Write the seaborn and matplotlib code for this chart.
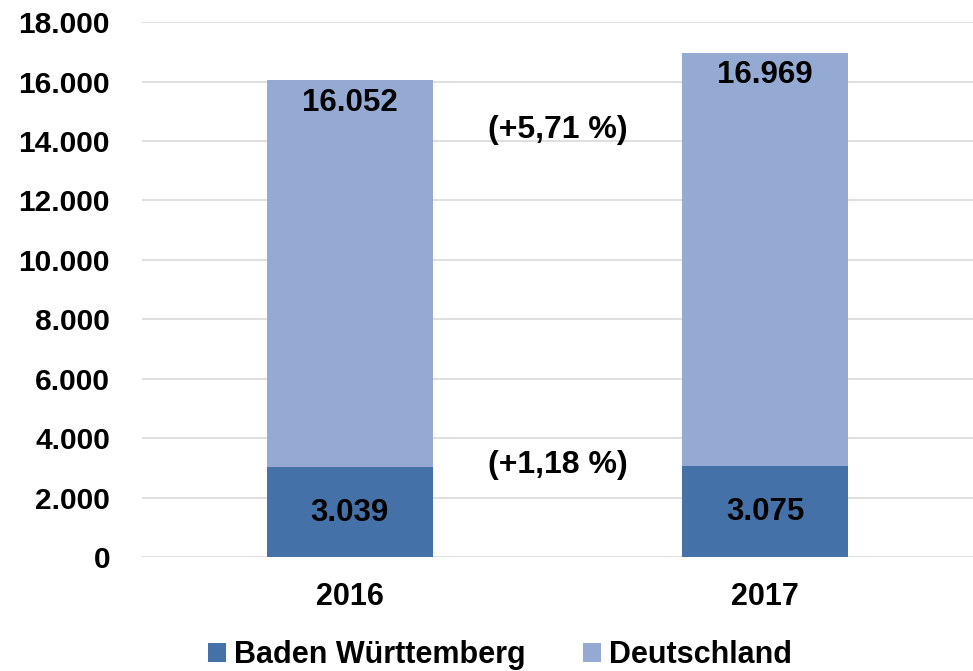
import matplotlib
matplotlib.use("Agg")
import matplotlib.pyplot as plt
import seaborn as sns
import pandas as pd

years = ["2016", "2017"]
deutschland = [16052, 16969]
baden_wuerttemberg = [3039, 3075]
de_labels = ["16.052", "16.969"]
bw_labels = ["3.039", "3.075"]
growth_de = "(+5,71 %)"
growth_bw = "(+1,18 %)"
yticks = [0, 2000, 4000, 6000, 8000, 10000, 12000, 14000, 16000, 18000]
ytick_labels = ["0", "2.000", "4.000", "6.000", "8.000", "10.000", "12.000", "14.000", "16.000", "18.000"]

sns.set_theme(style="white")
plt.rcParams['font.family'] = ['Liberation Sans', 'DejaVu Sans']
plt.rcParams['text.color'] = 'black'
plt.rcParams['xtick.color'] = 'black'
plt.rcParams['ytick.color'] = 'black'

c_bw = "#4472A8"
c_de = "#95AAD2"

fig = plt.figure(figsize=(9.73, 6.71), dpi=100)
ax = fig.add_axes([0.146, 0.17, 0.854, 0.797])

df_de = pd.DataFrame({"year": years, "value": deutschland})
df_bw = pd.DataFrame({"year": years, "value": baden_wuerttemberg})

sns.barplot(data=df_de, x="year", y="value", color=c_de, width=0.4, ax=ax,
            saturation=1, label="Deutschland", zorder=2, linewidth=0)
sns.barplot(data=df_bw, x="year", y="value", color=c_bw, width=0.4, ax=ax,
            saturation=1, label="Baden Württemberg", zorder=3, linewidth=0)

ax.set_xlim(-0.5, 1.5)
ax.set_ylim(0, 18000)
ax.set_yticks(yticks)
ax.set_yticklabels(ytick_labels, fontsize=21.5, fontweight="bold", color="black")
ax.set_xticks(range(len(years)))
ax.set_xticklabels(years, fontsize=22, fontweight="bold", color="black")
ax.tick_params(axis="x", pad=18, length=0)
ax.tick_params(axis="y", pad=23, length=0)
ax.set_xlabel("")
ax.set_ylabel("")
ax.yaxis.grid(True, color="#d9d9d9", linewidth=1.2, zorder=0)
ax.set_axisbelow(True)
for s in ax.spines.values():
    s.set_visible(False)

for i in range(len(years)):
    ax.text(i, deutschland[i] - 760, de_labels[i], ha="center", va="center",
            fontsize=22.5, fontweight="bold", color="black", zorder=5)
    ax.text(i, baden_wuerttemberg[i] / 2 - 40, bw_labels[i], ha="center", va="center",
            fontsize=22.5, fontweight="bold", color="black", zorder=5)

ax.text(0.5, 14370, growth_de, ha="center", va="center", fontsize=23, fontweight="bold", color="black")
ax.text(0.5, 3095, growth_bw, ha="center", va="center", fontsize=23, fontweight="bold", color="black")

handles, labels = ax.get_legend_handles_labels()
order = [labels.index("Baden Württemberg"), labels.index("Deutschland")]
leg = fig.legend([handles[j] for j in order], [labels[j] for j in order],
                 loc="center", bbox_to_anchor=(0.514, 0.024), ncol=2, frameon=False,
                 prop={"size": 22, "weight": "bold"}, handlelength=0.58, handleheight=0.58,
                 handletextpad=0.25, columnspacing=1.9)
for t in leg.get_texts():
    t.set_color("black")
if ax.get_legend() is not None:
    ax.get_legend().remove()

fig.savefig("out.png", dpi=100)
